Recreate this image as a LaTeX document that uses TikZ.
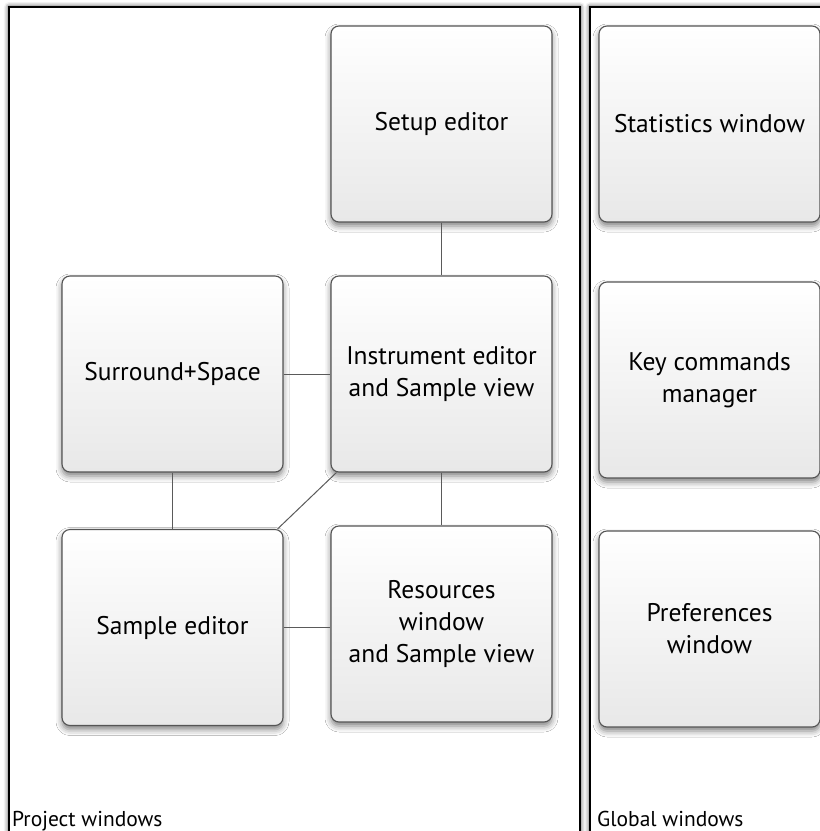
\documentclass[tikz,border=0pt]{standalone}
\usepackage{fontspec}
\setmainfont{PT Sans}
\usepackage{tikz}
\usetikzlibrary{shadows.blur,calc}
\definecolor{boxline}{HTML}{555555}
\definecolor{boxbottom}{HTML}{E8E8E8}
\definecolor{linkcol}{HTML}{5A5A5A}

\begin{document}
\begin{tikzpicture}[x=1pt,y=-1pt,
  win/.style={draw=boxline,line width=1.1pt,rounded corners=8pt,top color=white,bottom color=boxbottom,
    minimum width=221pt,minimum height=196pt,align=center,inner sep=0pt,
    font=\fontsize{25.5}{32}\selectfont,
    blur shadow={shadow xshift=0pt,shadow yshift=-4pt,shadow blur radius=6pt,shadow opacity=50}},
  panel/.style={draw=black,line width=1.6pt,fill=white,
    blur shadow={shadow xshift=0pt,shadow yshift=0pt,shadow blur radius=5pt,shadow opacity=90}},
  link/.style={draw=linkcol,line width=1pt},
  tag/.style={anchor=base west,inner sep=0pt,font=\fontsize{21.5}{25}\selectfont}]
  \useasboundingbox (0,0) rectangle (820,831);
  \clip (0,0) rectangle (820,831);

  \draw[panel] (9,7) rectangle (580,880);
  \draw[panel] (590,7) rectangle (880,880);
  \node[tag] (proj) at (12,826) {Project windows};
  \node[tag] (glob) at (597,826) {Global windows};

  \node[win] (setup)  at (441.5,124)   {Setup editor};
  \node[win] (inst)   at (441.5,374)   {Instrument editor\\and Sample view};
  \node[win] (surr)   at (172.5,374)   {Surround+Space};
  \node[win] (sample) at (172.5,627.5) {Sample editor};
  \node[win] (res)    at (441.5,624)   {Resources\\window\\and Sample view};

  \node[win] (stats) at (709.5,124) {Statistics window};
  \node[win] (keys)  at (709.5,380) {Key commands\\manager};
  \node[win] (prefs) at (709.5,629) {Preferences\\window};

  \draw[link] (setup) -- (inst);
  \draw[link] (surr) -- (inst);
  \draw[link] (surr) -- (sample);
  \draw[link] (inst) -- (res);
  \draw[link] ($(inst.south west)+(6,0)$) -- ($(sample.north east)+(-6,0)$);
  \draw[link] (sample.east) -- (sample.east -| res.west);
\end{tikzpicture}
\end{document}
